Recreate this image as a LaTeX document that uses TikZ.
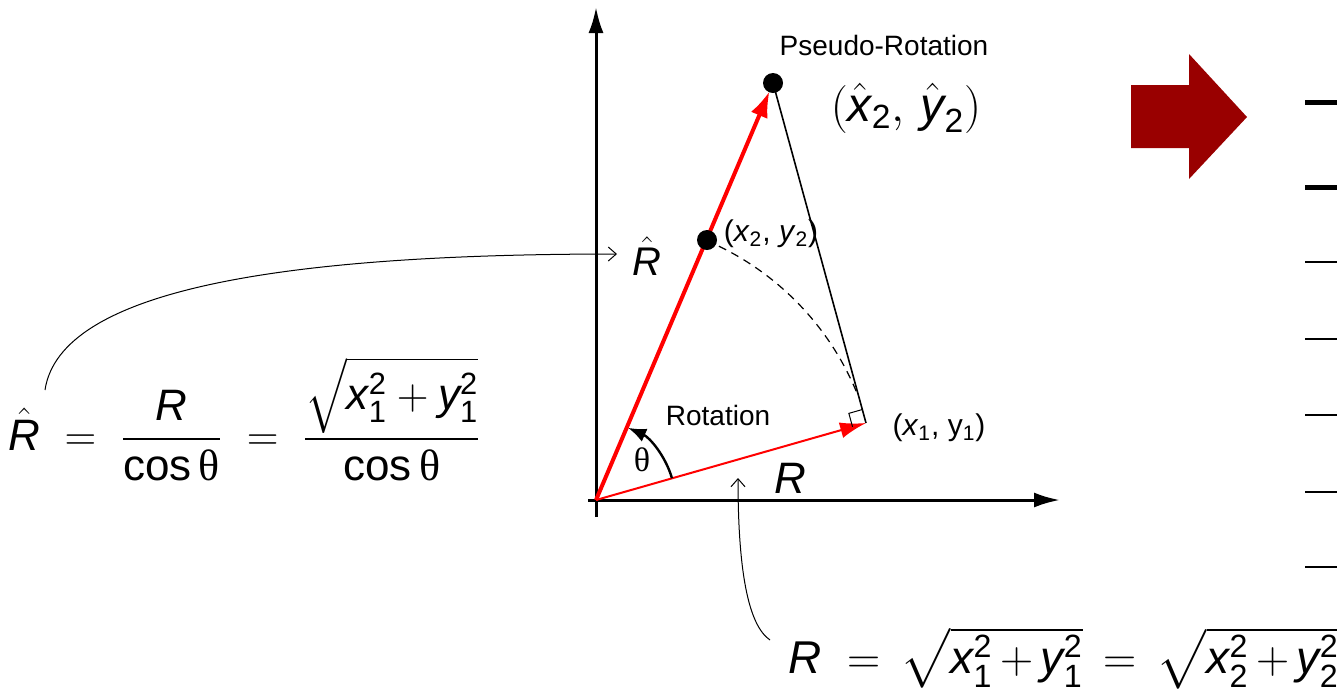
\RequirePackage{fix-cm}
\documentclass[tikz,border=0pt]{standalone}
\usepackage{amsmath}
\usepackage{fontspec}
\setmainfont{Liberation Sans}
\newfontfamily\grserif{Liberation Serif}
\usetikzlibrary{arrows.meta,calc}
\newcommand\VR{\textit{R}}
\newcommand\Vx{\textit{x}}
\newcommand\Vy{\textit{y}}
\newcommand\Th{\text{\grserif θ}}
\newcommand\Pls{\mkern3mu{+}\mkern3mu}
\definecolor{arrowred}{HTML}{990000}
\begin{document}
\begin{tikzpicture}[x=0.5pt,y=0.5pt,
  axis/.style={line width=1.5pt,-{Latex[length=13pt,width=7.5pt]}},
  vecthick/.style={red,line width=2pt,-{Latex[length=13pt,width=9pt]}},
  vecthin/.style={red,line width=1pt,-{Latex[length=13pt,width=8pt]}},
  dot/.style={circle,fill=black,inner sep=0pt,minimum size=10pt},
  lbl/.style={inner sep=0pt},
  conn/.style={line width=0.5pt,-{Straight Barb[length=4pt,width=7pt]}},
  thickrule/.style={line width=2.5pt},
  thinrule/.style={line width=1pt}
]
\useasboundingbox (0,0) rectangle (1337,-693);

% axes
\coordinate (O) at (596,-500);
\coordinate (yTop) at (596,-7);
\coordinate (yBot) at (596,-517);
\coordinate (xLeft) at (588,-500);
\coordinate (xRight) at (1060,-500);
\draw[axis] (yBot) -- (yTop);
\draw[axis] (xLeft) -- (xRight);

% points
\coordinate (P1) at (866,-423);
\coordinate (P2c) at (707,-240);
\coordinate (PHc) at (773,-83);

% lines
\draw[line width=0.8pt] (PHc) -- (P1);
\draw[dashed,dash pattern=on 4pt off 3pt,line width=0.6pt] (O) ++(67:282) arc[start angle=67,end angle=22,radius=282];
\draw[vecthick,shorten >=4.5pt] (O) -- (PHc);
\draw[vecthin] (O) -- (P1);

% right angle mark
\coordinate (ra1) at ($(P1)!7pt!(O)$);
\coordinate (ra2) at ($(P1)!7pt!(PHc)$);
\draw[line width=0.5pt] (ra1) -- ($(ra1)+(ra2)-(P1)$) -- (ra2);

% theta arc
\draw[line width=1.2pt,-{Latex[length=9pt,width=7pt]}] (O) ++(16:79) arc[start angle=16,end angle=66,radius=79];

% dots
\node[dot] (P2) at (P2c) {};
\node[dot] (PH) at (PHc) {};

% labels
\node[lbl,font=\fontsize{14}{17}\selectfont] (pr) at (884,-45) {Pseudo-Rotation};
\node[lbl,font=\fontsize{24}{28}\selectfont] (phl) at (906,-108) {$(\hat{\Vx}_{\text{2}},\,\hat{\Vy}_{\text{2}})$};
\node[lbl,font=\fontsize{15}{18}\selectfont] (p2l) at (771,-234) {(\Vx\textsubscript{2}, \Vy\textsubscript{2})};
\node[lbl,font=\fontsize{15}{18}\selectfont] (p1l) at (939,-428) {(\Vx\textsubscript{1}, y\textsubscript{1})};
\node[lbl,font=\fontsize{14}{17}\selectfont] (rot) at (718,-415) {Rotation};
\node[lbl,font=\grserif\fontsize{17}{20}\selectfont] (th) at (642,-460) {θ};
\node[lbl,font=\fontsize{22}{26}\selectfont] (Rl) at (790,-478) {\VR};
\node[lbl,font=\fontsize{20}{24}\selectfont] (Rhl) at (647,-256) {$\hat{\VR}$};

% formulas
\node[lbl,anchor=west,font=\fontsize{22}{26}\selectfont] (fl) at (8,-419)
  {$\hat{\VR} \;=\; \dfrac{\VR}{\text{cos}\,\Th} \;=\; \dfrac{\sqrt{\Vx^{\text{2}}_{\text{1}}+\Vy^{\text{2}}_{\text{1}}}}{\text{cos}\,\Th}$};
\node[lbl,anchor=base west,font=\fontsize{23}{27}\selectfont] (fb) at (788,-673)
  {$\VR \;=\, \sqrt{\Vx^{\text{2}}_{\text{1}}\Pls\Vy^{\text{2}}_{\text{1}}} \,=\, \sqrt{\Vx^{\text{2}}_{\text{2}}\Pls\Vy^{\text{2}}_{\text{2}}}$};

% connectors
\coordinate (c1s) at (45,-390);
\coordinate (c1e) at (617,-254);
\draw[conn] (c1s) .. controls (60,-290) and (280,-254) .. (c1e);
\coordinate (c2s) at (770,-640);
\coordinate (c2e) at (738,-478);
\draw[conn] (c2s) .. controls (748,-625) and (738,-570) .. (c2e);

% big arrow
\fill[arrowred] (1131,-85) -- (1189,-85) -- (1189,-54) -- (1247,-117) -- (1189,-179) -- (1189,-148) -- (1131,-148) -- cycle;

% right rules
\draw[thickrule] (1305,-102) -- (1337,-102);
\draw[thickrule] (1305,-187) -- (1337,-187);
\foreach \yy in {262,339,415,492,567} \draw[thinrule] (1305,-\yy) -- (1337,-\yy);
\end{tikzpicture}
\end{document}
